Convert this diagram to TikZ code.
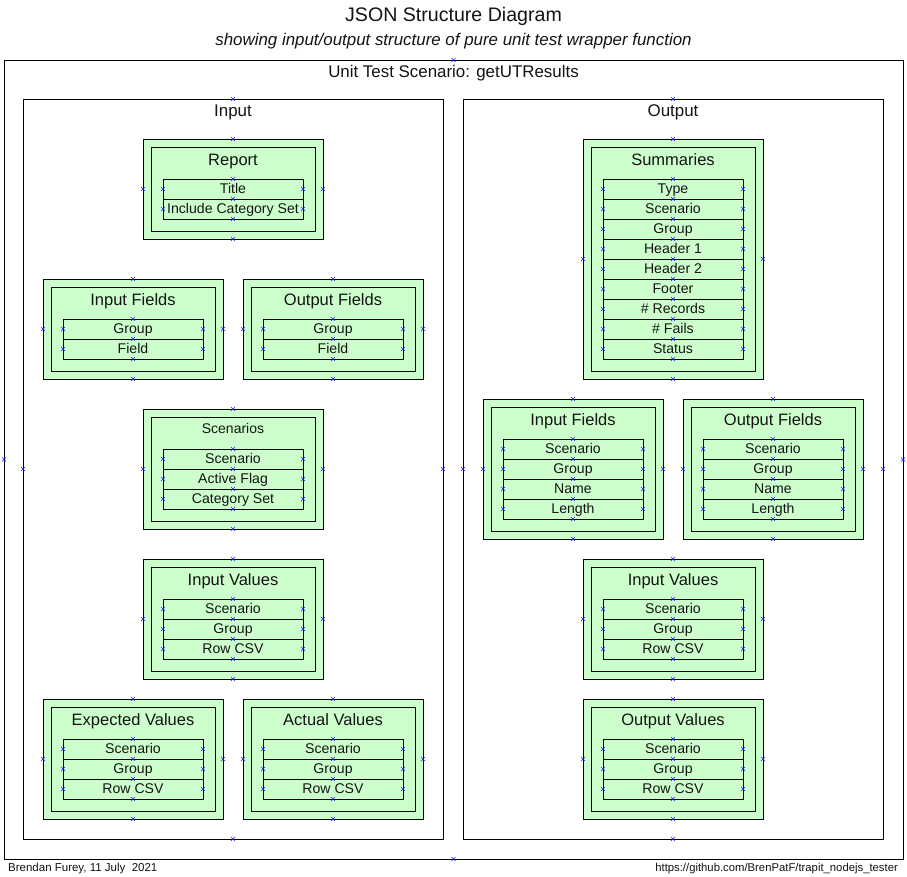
\documentclass[tikz,border=0pt]{standalone}
\usepackage{fontspec}
\setmainfont{Liberation Sans}
\definecolor{boxgreen}{RGB}{204,255,204}
\definecolor{mkblue}{RGB}{30,30,255}
\definecolor{txt}{RGB}{20,20,20}
\tikzset{
  frame/.style={draw=black, line width=0.8pt, inner sep=0pt, outer sep=0pt, anchor=north west},
  obox/.style={draw=black, line width=0.8pt, fill=boxgreen, inner sep=0pt, outer sep=0pt, anchor=north west, minimum width=180pt},
  ibox/.style={draw=black, line width=0.8pt, inner sep=0pt, outer sep=0pt, anchor=north west, minimum width=164pt},
  rowbox/.style={draw=black, line width=0.8pt, inner sep=0pt, outer sep=0pt, anchor=north west, minimum width=140pt, minimum height=20pt, text height=10.3pt, text depth=2pt, font=\fontsize{14.1}{15}\selectfont, text=txt},
  btitle/.style={font=\fontsize{16.5}{18}\selectfont, inner sep=0pt, anchor=base, text=txt},
  lbl/.style={font=\fontsize{16.9}{18}\selectfont, inner sep=0pt, anchor=base, text=txt},
  cpx/.pic={\draw[mkblue, line width=0.65pt] (-2,-2)--(2,2) (-2,2)--(2,-2);},
}
\newcommand\entbox[7]{%
  \pgfmathsetmacro\bh{60+20*#4}%
  \pgfmathsetmacro\ih{44+20*#4}%
  \node[obox, minimum height=\bh pt] (#1) at (#2,#3) {};
  \node[ibox, minimum height=\ih pt] (#1-in) at (#2+8,#3+8) {};
  \node[btitle] (#1-t) at (#2+90,#3+#6) {#5};
  \foreach [count=\i from 0] \rowtxt in {#7} {
    \node[rowbox] (#1-r\i) at (#2+20,#3+40+20*\i) {\rowtxt};
  }
  \foreach \i in {1,...,#4} {
    \pic at (#2+90,#3+20+20*\i) {cpx};
    \pic at (#2+20,#3+30+20*\i) {cpx};
    \pic at (#2+160,#3+30+20*\i) {cpx};
  }
  \pic at (#2+90,#3+40+20*#4) {cpx};
  \pic at (#2+90,#3) {cpx};
  \pic at (#2+90,#3+\bh) {cpx};
  \pic at (#2,#3+\bh/2) {cpx};
  \pic at (#2+180,#3+\bh/2) {cpx};
}
\begin{document}
\begin{tikzpicture}[x=1pt,y=-1pt]
\useasboundingbox (0,0) rectangle (907,876);
\fill[white] (0,0) rectangle (907,876);

\node[font=\fontsize{19.6}{22}\selectfont, inner sep=0pt, anchor=base, text=txt] (title) at (453.5,21) {JSON Structure Diagram};
\node[font=\fontsize{16.9}{18}\selectfont\itshape, inner sep=0pt, anchor=base, text=txt] (subtitle) at (453.5,45) {showing input/output structure of pure unit test wrapper function};

\node[frame, minimum width=899pt, minimum height=799pt] (scenario) at (4,60) {};
\node[lbl] (scenario-t) at (453.5,77.5) {Unit Test Scenario: getUTResults};
\node[frame, minimum width=420pt, minimum height=740pt] (input) at (23,99) {};
\node[lbl] (input-t) at (233,116.5) {Input};
\node[frame, minimum width=420pt, minimum height=740pt] (output) at (463,99) {};
\node[lbl] (output-t) at (673,116.5) {Output};

\pic at (453.5,60) {cpx};
\pic at (453.5,859) {cpx};
\pic at (4,459.5) {cpx};
\pic at (903,459.5) {cpx};
\pic at (233,99) {cpx};
\pic at (233,839) {cpx};
\pic at (23,469) {cpx};
\pic at (443,469) {cpx};
\pic at (673,99) {cpx};
\pic at (673,839) {cpx};
\pic at (463,469) {cpx};
\pic at (883,469) {cpx};

% Input side
\entbox{report}{143}{139}{2}{Report}{26.7}{Title,Include Category Set}
\entbox{infld}{43}{279}{2}{Input Fields}{26.7}{Group,Field}
\entbox{outfld}{243}{279}{2}{Output Fields}{26.7}{Group,Field}
\entbox{scen}{143}{409}{3}{\fontsize{14}{16}\selectfont Scenarios}{24.3}{Scenario,Active Flag,Category Set}
\entbox{inval}{143}{559}{3}{Input Values}{26.7}{Scenario,Group,Row CSV}
\entbox{expval}{43}{699}{3}{Expected Values}{26.7}{Scenario,Group,Row CSV}
\entbox{actval}{243}{699}{3}{Actual Values}{26.7}{Scenario,Group,Row CSV}

% Output side
\entbox{summ}{583}{139}{9}{Summaries}{26.7}{Type,Scenario,Group,Header 1,Header 2,Footer,\# Records,\# Fails,Status}
\entbox{oinfld}{483}{399}{4}{Input Fields}{26.7}{Scenario,Group,Name,Length}
\entbox{ooutfld}{683}{399}{4}{Output Fields}{26.7}{Scenario,Group,Name,Length}
\entbox{oinval}{583}{559}{3}{Input Values}{26.7}{Scenario,Group,Row CSV}
\entbox{ooutval}{583}{699}{3}{Output Values}{26.7}{Scenario,Group,Row CSV}

\node[font=\fontsize{11.5}{13}\selectfont, inner sep=0pt, anchor=base west, text=txt] (author) at (8,871) {Brendan Furey, 11 July\ \ 2021};
\node[font=\fontsize{11.3}{13}\selectfont, inner sep=0pt, anchor=base east, text=txt] (url) at (898,871) {https://github.com/BrenPatF/trapit\_nodejs\_tester};
\end{tikzpicture}
\end{document}
